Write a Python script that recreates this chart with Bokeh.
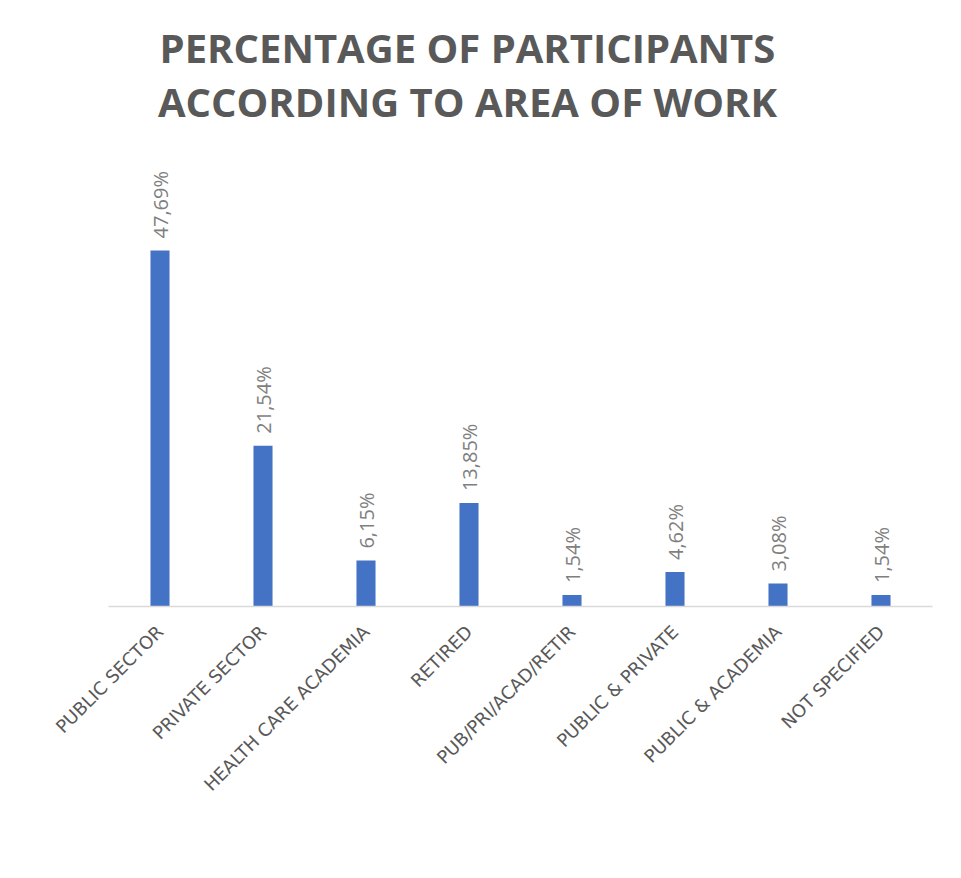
import math
from bokeh.plotting import figure
from bokeh.models import ColumnDataSource, Range1d, FixedTicker
from bokeh.core.properties import value
from bokeh.embed import file_html
from bokeh.resources import INLINE

categories = ["PUBLIC SECTOR", "PRIVATE SECTOR", "HEALTH CARE ACADEMIA", "RETIRED",
              "PUB/PRI/ACAD/RETIR", "PUBLIC & PRIVATE", "PUBLIC & ACADEMIA", "NOT SPECIFIED"]
percentages = [47.69, 21.54, 6.15, 13.85, 1.54, 4.62, 3.08, 1.54]
value_labels = ["47,69%", "21,54%", "6,15%", "13,85%", "1,54%", "4,62%", "3,08%", "1,54%"]
title_lines = ["PERCENTAGE OF PARTICIPANTS", "ACCORDING TO AREA OF WORK"]

xs = list(range(len(categories)))
src = ColumnDataSource(dict(x=xs, top=percentages, lab=value_labels))

p = figure(width=945, height=862, output_backend="svg", toolbar_location=None,
           x_range=Range1d(-0.5, len(categories) - 0.5), y_range=Range1d(0, 81.17),
           min_border_left=108, min_border_right=13, min_border_top=0, min_border_bottom=256)
p.outline_line_color = None
p.grid.visible = False
p.yaxis.visible = False

p.vbar(x="x", top="top", width=0.185, bottom=0, source=src,
       fill_color="#4472C4", line_color=None)

p.text(x="x", y="top", text="lab", source=src, angle=math.pi / 2,
       text_align="left", text_baseline="middle", y_offset=-12,
       text_font=value("Open Sans"), text_font_size="20px", text_color="#7f7f7f")

title_src = ColumnDataSource(dict(x=[2.985, 2.985], y=[74.9, 67.6], t=title_lines))
p.text(x="x", y="y", text="t", source=title_src, text_align="center",
       text_baseline="middle", text_font=value("Open Sans"), text_font_style="bold",
       text_font_size="40px", text_color="#595959")

ax = p.xaxis[0]
ax.ticker = FixedTicker(ticks=xs)
ax.major_label_overrides = {i: c for i, c in zip(xs, categories)}
ax.major_label_orientation = math.pi / 4
ax.major_label_text_font = "DejaVu Sans"
ax.major_label_text_font_size = "18px"
ax.major_label_text_color = "#595959"
ax.major_label_standoff = 16
ax.major_tick_line_color = None
ax.minor_tick_line_color = None
ax.axis_line_color = "#d9d9d9"
ax.axis_line_width = 1.5

open("out.html", "w").write(file_html(p, INLINE))
